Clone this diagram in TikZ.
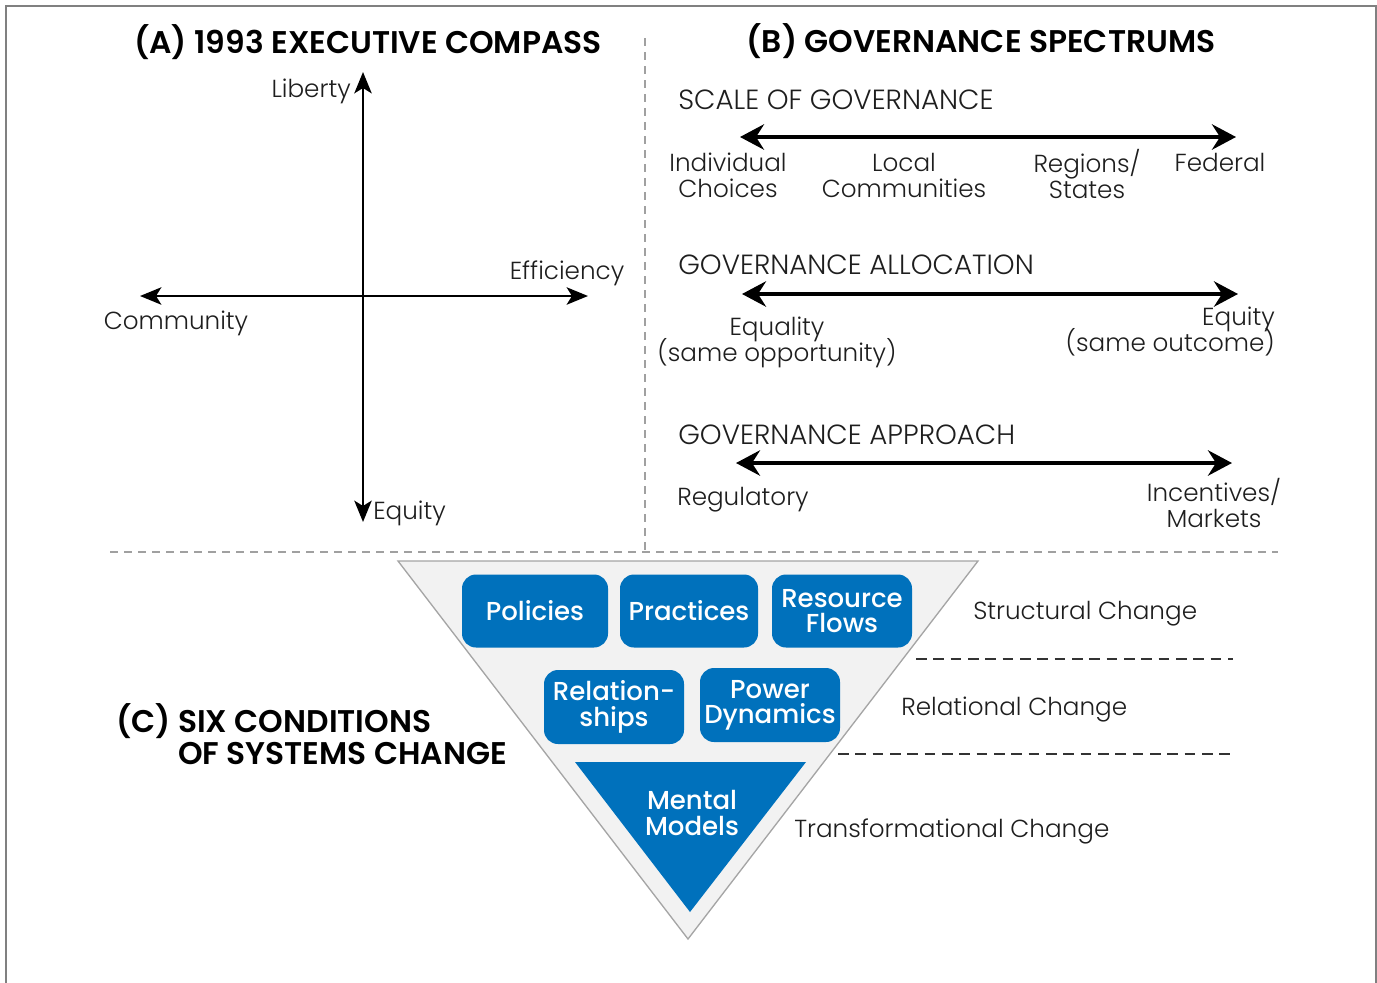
\documentclass[tikz,border=0pt]{standalone}
\usepackage{fontspec}
\usetikzlibrary{arrows.meta}

% Typefaces: light text, semibold headings, medium box labels
\IfFontExistsTF{Poppins Light}
  {\newfontfamily\bodyfont{Poppins Light}}
  {\newfontfamily\bodyfont{Poppins}}
\IfFontExistsTF{Poppins SemiBold}
  {\newfontfamily\headfont{Poppins SemiBold}}
  {\newfontfamily\headfont{Poppins}[UprightFont=*,BoldFont=*]}
\IfFontExistsTF{Poppins Medium}
  {\newfontfamily\boxfont{Poppins Medium}}
  {\newfontfamily\boxfont{Poppins}}

% keep multi-line labels on a fixed baseline grid
\newcommand{\fixedlines}{\setlength{\lineskiplimit}{-20pt}}

\definecolor{cblue}{RGB}{0,113,188}
\definecolor{trifill}{RGB}{242,242,242}
\definecolor{triedge}{RGB}{165,165,165}
\definecolor{divgray}{RGB}{160,160,160}
\definecolor{txt}{RGB}{30,30,30}

\begin{document}
\begin{tikzpicture}[x=0.75pt,y=-0.75pt,
  body/.style={inner sep=0pt, text=txt, font={\bodyfont\fontsize{18.5}{19.5}\selectfont\fixedlines}},
  caps/.style={body, font={\bodyfont\fontsize{20.8}{21}\selectfont}},
  head/.style={inner sep=0pt, text=black, font={\headfont\fontsize{23.5}{24}\selectfont\fixedlines}},
  axis/.style={line width=1.9pt, {Stealth[length=16pt,width=13pt,inset=4pt]}-{Stealth[length=16pt,width=13pt,inset=4pt]}},
  spec/.style={line width=3.6pt, {Stealth[length=18pt,width=19pt,inset=6pt]}-{Stealth[length=18pt,width=19pt,inset=6pt]}},
  divider/.style={divgray, line width=1.5pt, dash pattern=on 6pt off 4.5pt},
  layerline/.style={black!80, line width=1.8pt, dash pattern=on 8pt off 5pt},
  cbox/.style={fill=cblue, rounded corners=10.5pt, text=white, align=center, inner sep=0pt,
    font={\boxfont\fontsize{19.5}{19}\selectfont\fixedlines}}
]
\useasboundingbox (0,0) rectangle (1377,982);

% outer frame
\draw[gray, line width=0.8pt] (6,1000) -- (6,6) -- (1376,6) -- (1376,1000);

% ---------- (A) compass ----------
\node[head] (tA) at (368,42) {(A) 1993 EXECUTIVE COMPASS};
\coordinate (cN) at (363,72);
\coordinate (cS) at (363,522);
\coordinate (cW) at (140,296);
\coordinate (cE) at (588,296);
\draw[axis] (cS) -- (cN);
\draw[axis] (cW) -- (cE);
\node[body, anchor=east] (lib) at (351,91) {Liberty};
\node[body, anchor=west] (equ) at (373,513) {Equity};
\node[body] (eff) at (567,273) {Efficiency};
\node[body] (com) at (176,323) {Community};

% section dividers
\draw[divider] (645,38) -- (645,550);
\draw[divider] (110,552) -- (1278,552);

% ---------- (B) spectrums ----------
\node[head] (tB) at (981,41) {(B) GOVERNANCE SPECTRUMS};

\node[caps, anchor=west] (s1) at (678,100) {SCALE OF GOVERNANCE};
\coordinate (s1l) at (740,137);
\coordinate (s1r) at (1236,137);
\draw[spec] (s1l) -- (s1r);
\node[body, align=center] (ind) at (728,175) {Individual\\Choices};
\node[body, align=center] (loc) at (904,175) {Local\\Communities};
\node[body, align=center] (reg) at (1087,174) {Regions/\\States};
\node[body] (fed) at (1220,162) {Federal};

\node[caps, anchor=west] (s2) at (678,265) {GOVERNANCE ALLOCATION};
\coordinate (s2l) at (742,294);
\coordinate (s2r) at (1238,294);
\draw[spec] (s2l) -- (s2r);
\node[body, align=center] (eql) at (777,342) {Equality\\(same opportunity)};
\node[body, align=right, anchor=east] (eqt) at (1275,332) {Equity\\(same outcome)};

\node[caps, anchor=west] (s3) at (678,435) {GOVERNANCE APPROACH};
\coordinate (s3l) at (736,463);
\coordinate (s3r) at (1232,463);
\draw[spec] (s3l) -- (s3r);
\node[body, anchor=west] (rgl) at (677,500) {Regulatory};
\node[body, align=center] (inc) at (1214,503) {Incentives/\\Markets};

% ---------- (C) six conditions ----------
\node[head, align=left, anchor=west] (tC) at (116,737)
  {(C) SIX CONDITIONS\\\phantom{(C) }OF SYSTEMS CHANGE};

\draw[fill=trifill, draw=triedge, line width=1pt]
  (398,561) -- (978,561) -- (688,939) -- cycle;

\node[cbox, minimum width=109.5pt, minimum height=54.75pt] (pol) at (535,611) {Policies};
\node[cbox, minimum width=103.5pt, minimum height=54.75pt] (pra) at (689,611) {Practices};
\node[cbox, minimum width=105pt, minimum height=54.75pt] (res) at (842,611) {Resource\\Flows};
\node[cbox, minimum width=105pt, minimum height=55.5pt] (rel) at (614,707) {Relation-\\ships};
\node[cbox, minimum width=105pt, minimum height=55.5pt] (pow) at (770,705) {Power\\Dynamics};

\fill[cblue] (575,762) -- (806,762) -- (690,912) -- cycle;
\node[align=center, text=white, inner sep=0pt, font={\boxfont\fontsize{19.5}{19}\selectfont\fixedlines}]
  (men) at (692,813) {Mental\\Models};

\node[body, anchor=west] (stc) at (973,614) {Structural Change};
\draw[layerline] (916,659) -- (1233,659);
\node[body, anchor=west] (rlc) at (901,710) {Relational Change};
\draw[layerline] (838,754) -- (1230,754);
\node[body, anchor=west] (trc) at (794,831) {Transformational Change};
\end{tikzpicture}
\end{document}
